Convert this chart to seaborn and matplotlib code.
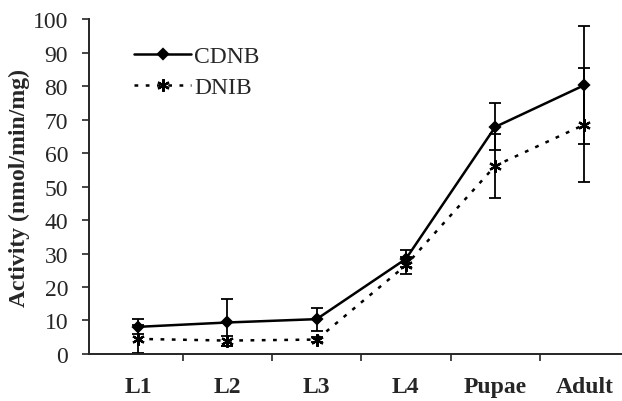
import numpy as np
import pandas as pd
import matplotlib
matplotlib.use('Agg')
import matplotlib.pyplot as plt
import seaborn as sns
from matplotlib.ticker import FixedLocator

sns.set_style('ticks')
plt.rcParams['font.family'] = ['Liberation Serif', 'DejaVu Serif']

# Data
stages = ['L1', 'L2', 'L3', 'L4', 'Pupae', 'Adult']
cdnb = [8.1, 9.4, 10.4, 28.4, 67.8, 80.3]
cdnb_err = [2.2, 7.0, 3.4, 2.5, 7.0, 17.5]
dnib = [4.5, 4.0, 4.3, 26.5, 56.2, 68.5]
dnib_err = [4.2, 1.5, 0.8, 2.5, 9.5, 17.0]

df = pd.DataFrame({
    'pos': list(range(len(stages))) * 2,
    'activity': cdnb + dnib,
    'err': cdnb_err + dnib_err,
    'substrate': ['CDNB'] * len(stages) + ['DNIB'] * len(stages),
})

fig = plt.figure(figsize=(6.22, 4.02), dpi=100)
ax = fig.add_axes([0.143, 0.117, 0.857, 0.833])

styles = {
    'CDNB': dict(ls='-', marker='D', ms=5.5, lw=1.8),
    'DNIB': dict(ls=(0, (1.5, 3)), marker=(6, 2, 0), ms=9, lw=1.8),
}

for name, sub in df.groupby('substrate'):
    st = styles[name]
    ax.errorbar(sub['pos'], sub['activity'], yerr=sub['err'], fmt='none',
                ecolor='black', elinewidth=1.3, capsize=4, capthick=1.3, zorder=2)
    sns.lineplot(data=sub, x='pos', y='activity', ax=ax, color='black',
                 linestyle=st['ls'], marker=st['marker'], markersize=st['ms'],
                 markeredgecolor='black', markerfacecolor='black',
                 markeredgewidth=1.6, linewidth=st['lw'], label=name, zorder=3)

ax.set_xlim(-0.55, 5.42)
ax.set_ylim(0, 100)
ax.set_yticks(np.arange(0, 101, 10))
ax.set_xticks(range(len(stages)))
ax.set_xticklabels(stages, fontsize=17, fontweight='bold')
ax.tick_params(axis='x', length=0, pad=16)
ax.xaxis.set_minor_locator(FixedLocator([0.5, 1.5, 2.5, 3.5, 4.5]))
ax.tick_params(axis='x', which='minor', length=5, direction='out', width=1.2)
ax.tick_params(axis='y', labelsize=17, length=5, width=1.2, direction='out', pad=10)
ax.set_xlabel('')
ax.set_ylabel('Activity (nmol/min/mg)', fontsize=17, fontweight='bold', labelpad=2)

for side in ['top', 'right']:
    ax.spines[side].set_visible(False)
ax.spines['left'].set_linewidth(1.4)
ax.spines['bottom'].set_linewidth(1.4)

leg = ax.legend(loc='upper left', bbox_to_anchor=(0.045, 0.985), frameon=False,
                fontsize=17, handlelength=2.4, handletextpad=0.15, labelspacing=0.4)

fig.savefig('out.png', dpi=100)
